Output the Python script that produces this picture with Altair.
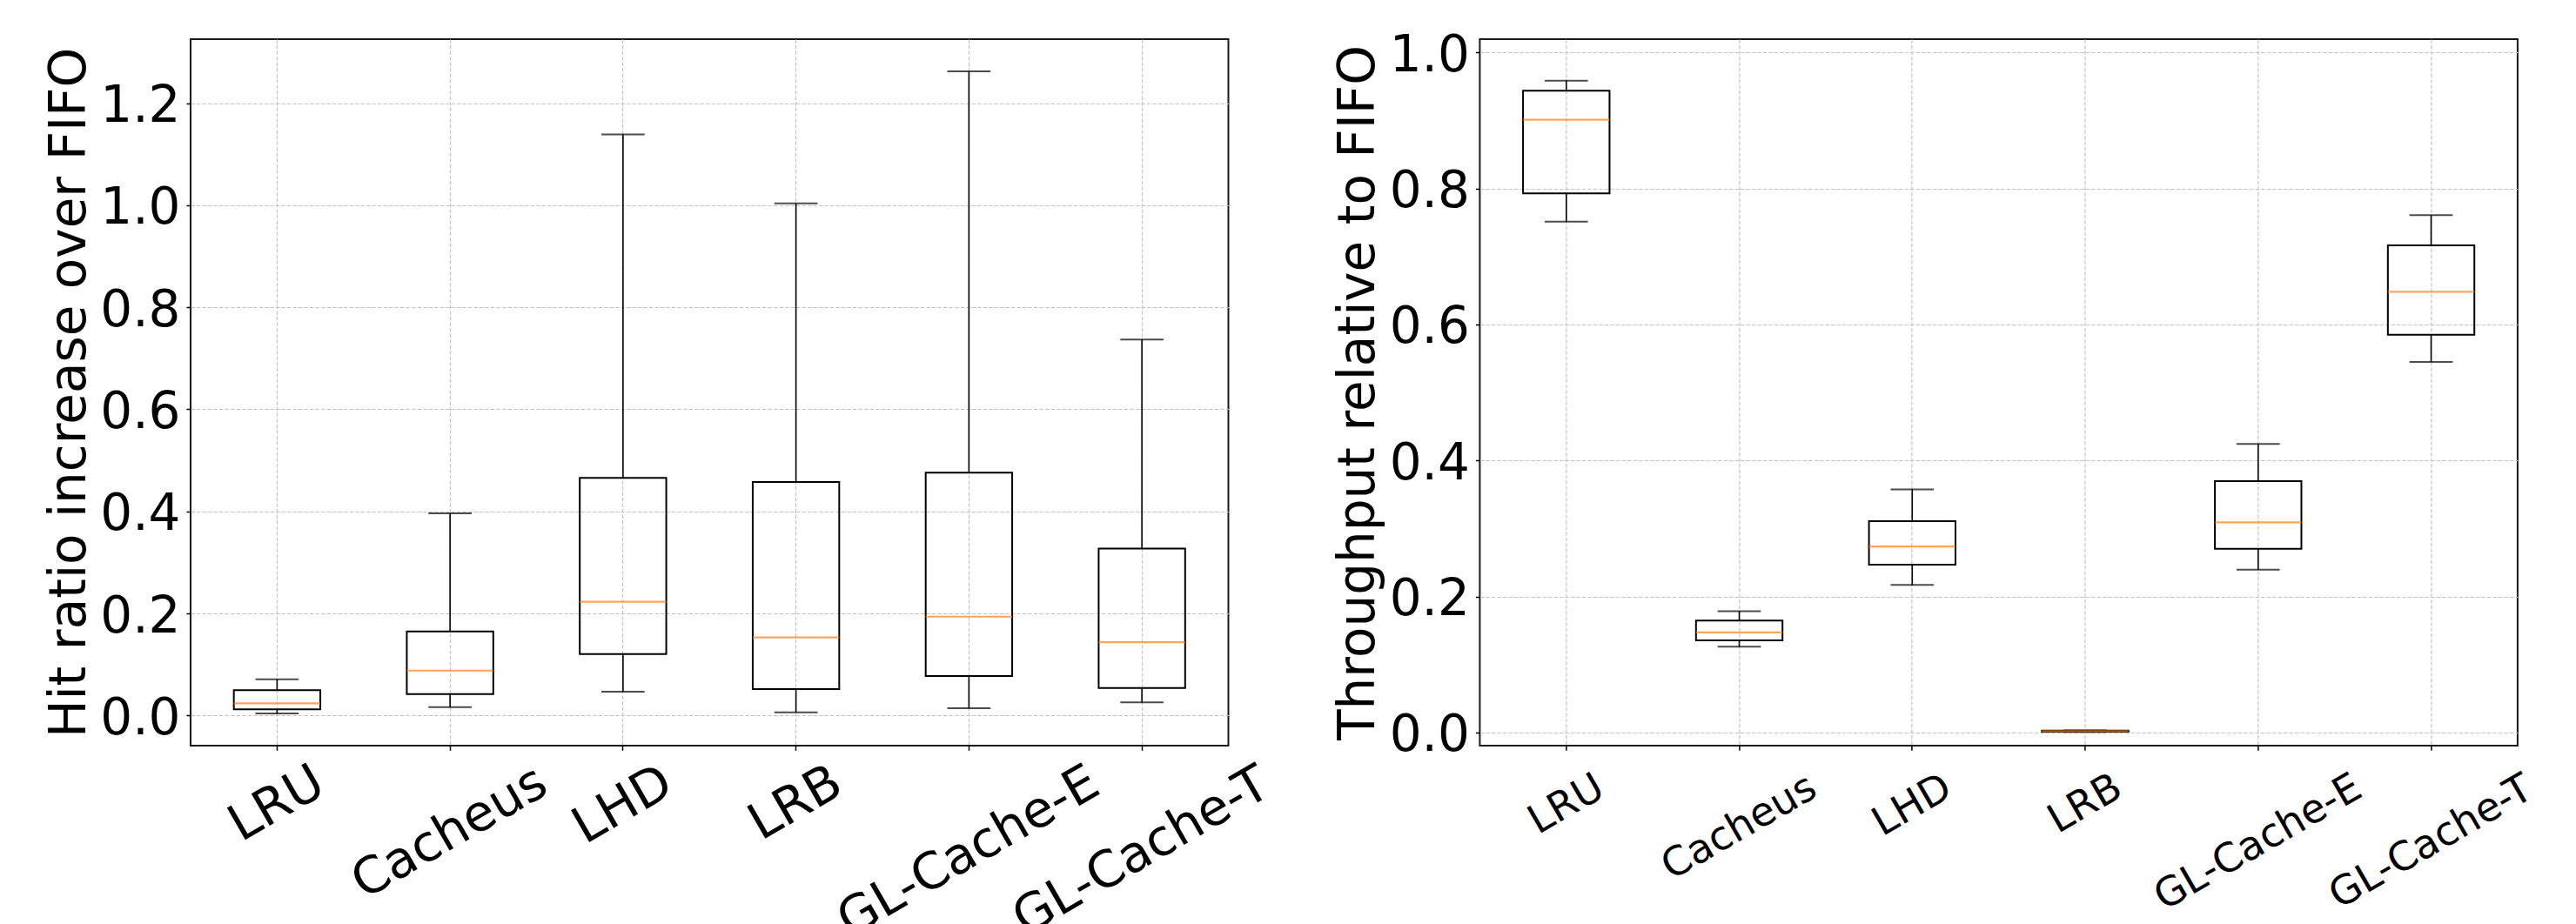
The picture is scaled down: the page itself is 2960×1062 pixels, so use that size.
import altair as alt
import pandas as pd

# ---- data -------------------------------------------------------------
names = ["LRU", "Cacheus", "LHD", "LRB", "GL-Cache-E", "GL-Cache-T"]

# hit ratio increase over FIFO (box plot summary per algorithm)
hit_lo = [0.0039, 0.0164, 0.0466, 0.0062, 0.0141, 0.0256]
hit_q1 = [0.0119, 0.0420, 0.1204, 0.0517, 0.0772, 0.0539]
hit_med = [0.0239, 0.0880, 0.2230, 0.1528, 0.1937, 0.1437]
hit_q3 = [0.0494, 0.1647, 0.4655, 0.4574, 0.4759, 0.3270]
hit_hi = [0.0709, 0.3962, 1.1388, 1.0036, 1.2623, 0.7369]

# throughput relative to FIFO
tp_lo = [0.7512, 0.1262, 0.2172, 0.0010, 0.2397, 0.5449]
tp_q1 = [0.7928, 0.1357, 0.2468, 0.0013, 0.2701, 0.5848]
tp_med = [0.9012, 0.1472, 0.2736, 0.0020, 0.3091, 0.6480]
tp_q3 = [0.9437, 0.1646, 0.3109, 0.0028, 0.3698, 0.7165]
tp_hi = [0.9584, 0.1783, 0.3576, 0.0033, 0.4244, 0.7608]

hit_ticks = [0.0, 0.2, 0.4, 0.6, 0.8, 1.0, 1.2]
tp_ticks = [0.0, 0.2, 0.4, 0.6, 0.8, 1.0]
hit_domain = [-0.0591, 1.3254]
tp_domain = [-0.0192, 1.0196]

# ---- styles -----------------------------------------------------------
FONT = "DejaVu Sans"
TICK = 5.3
# distance from the axis line to the centre of each rotated label
left_centers = [67.0, 100.1, 68.4, 66.3, 122.3, 121.9]
right_centers = [67.0, 93.3, 68.1, 66.5, 110.9, 110.5]
GRID = "#c4c4c4"
ORANGE = "#ff7f0e"


def pad_cond(centers):
    conds = [
        {"test": f"datum.value === '{n}'", "value": round(c - TICK, 1)}
        for n, c in zip(names, centers)
    ]
    return {"condition": conds, "value": round(centers[0] - TICK, 1)}


def panel(lo, q1, med, q3, hi, domain, ticks, title, xfs, centers):
    df = pd.DataFrame(
        {"name": names, "lo": lo, "q1": q1, "med": med, "q3": q3, "hi": hi}
    )
    xscale = alt.Scale(domain=names, paddingInner=0.5, paddingOuter=0.25)
    yscale = alt.Scale(domain=domain, nice=False, zero=False)
    xaxis = alt.Axis(
        title=None,
        labelAngle=330,
        labelAlign="center",
        labelBaseline="middle",
        labelFontSize=xfs,
        labelFont=FONT,
        labelColor="black",
        labelLimit=0,
        labelOverlap=False,
        labelPadding=pad_cond(centers),
        tickSize=TICK,
        tickColor="black",
        tickWidth=1.5,
        grid=True,
        gridDash=[4.5, 2],
        gridColor=GRID,
        gridWidth=1.2,
        domain=False,
        bandPosition=0.5,
    )
    yaxis = alt.Axis(
        title=title,
        values=ticks,
        format=".1f",
        labelFontSize=58,
        labelFont=FONT,
        labelColor="black",
        labelPadding=7,
        labelBaseline="middle",
        labelOffset=4,
        tickSize=5,
        tickColor="black",
        tickWidth=1.5,
        grid=True,
        gridDash=[4.5, 2],
        gridColor=GRID,
        gridWidth=1.2,
        domain=False,
        titleFont=FONT,
        titleFontSize=58,
        titleFontWeight="normal",
        titleColor="black",
        titleAngle=270,
        titleBaseline="alphabetic",
        titleX=-122,
    )
    base = alt.Chart(df)
    x = alt.X("name:N", scale=xscale, axis=xaxis, sort=names)

    def Y(field):
        return alt.Y(f"{field}:Q", scale=yscale, axis=yaxis)

    whisk_lo = base.mark_rule(color="black", strokeWidth=1.6).encode(
        x=x, y=Y("lo"), y2="q1:Q"
    )
    whisk_hi = base.mark_rule(color="black", strokeWidth=1.6).encode(
        x=x, y=Y("q3"), y2="hi:Q"
    )
    cap_lo = base.mark_tick(color="black", thickness=2, size=49.7).encode(
        x=x, y=Y("lo")
    )
    cap_hi = base.mark_tick(color="black", thickness=2, size=49.7).encode(
        x=x, y=Y("hi")
    )
    box = base.mark_bar(fill="transparent", stroke="black", strokeWidth=2).encode(
        x=x, y=Y("q1"), y2="q3:Q"
    )
    median = base.mark_tick(color=ORANGE, thickness=2.2, size=99.4).encode(
        x=x, y=Y("med")
    )
    return alt.layer(whisk_lo, whisk_hi, cap_lo, cap_hi, box, median).properties(
        width=1192.5, height=812
    )


left = panel(hit_lo, hit_q1, hit_med, hit_q3, hit_hi, hit_domain, hit_ticks,
             "Hit ratio increase over FIFO", 58, left_centers)
right = panel(tp_lo, tp_q1, tp_med, tp_q3, tp_hi, tp_domain, tp_ticks,
              "Throughput relative to FIFO", 46, right_centers)

chart = (
    alt.hconcat(left, right, spacing=288.4, bounds="flush")
    .properties(
        padding={"left": 41, "top": 26, "right": 10, "bottom": 5},
        background="white",
    )
    .configure_view(stroke="#1a1a1a", strokeWidth=2)
)

chart.save("out.html", embed_options={"renderer": "svg", "actions": False})
